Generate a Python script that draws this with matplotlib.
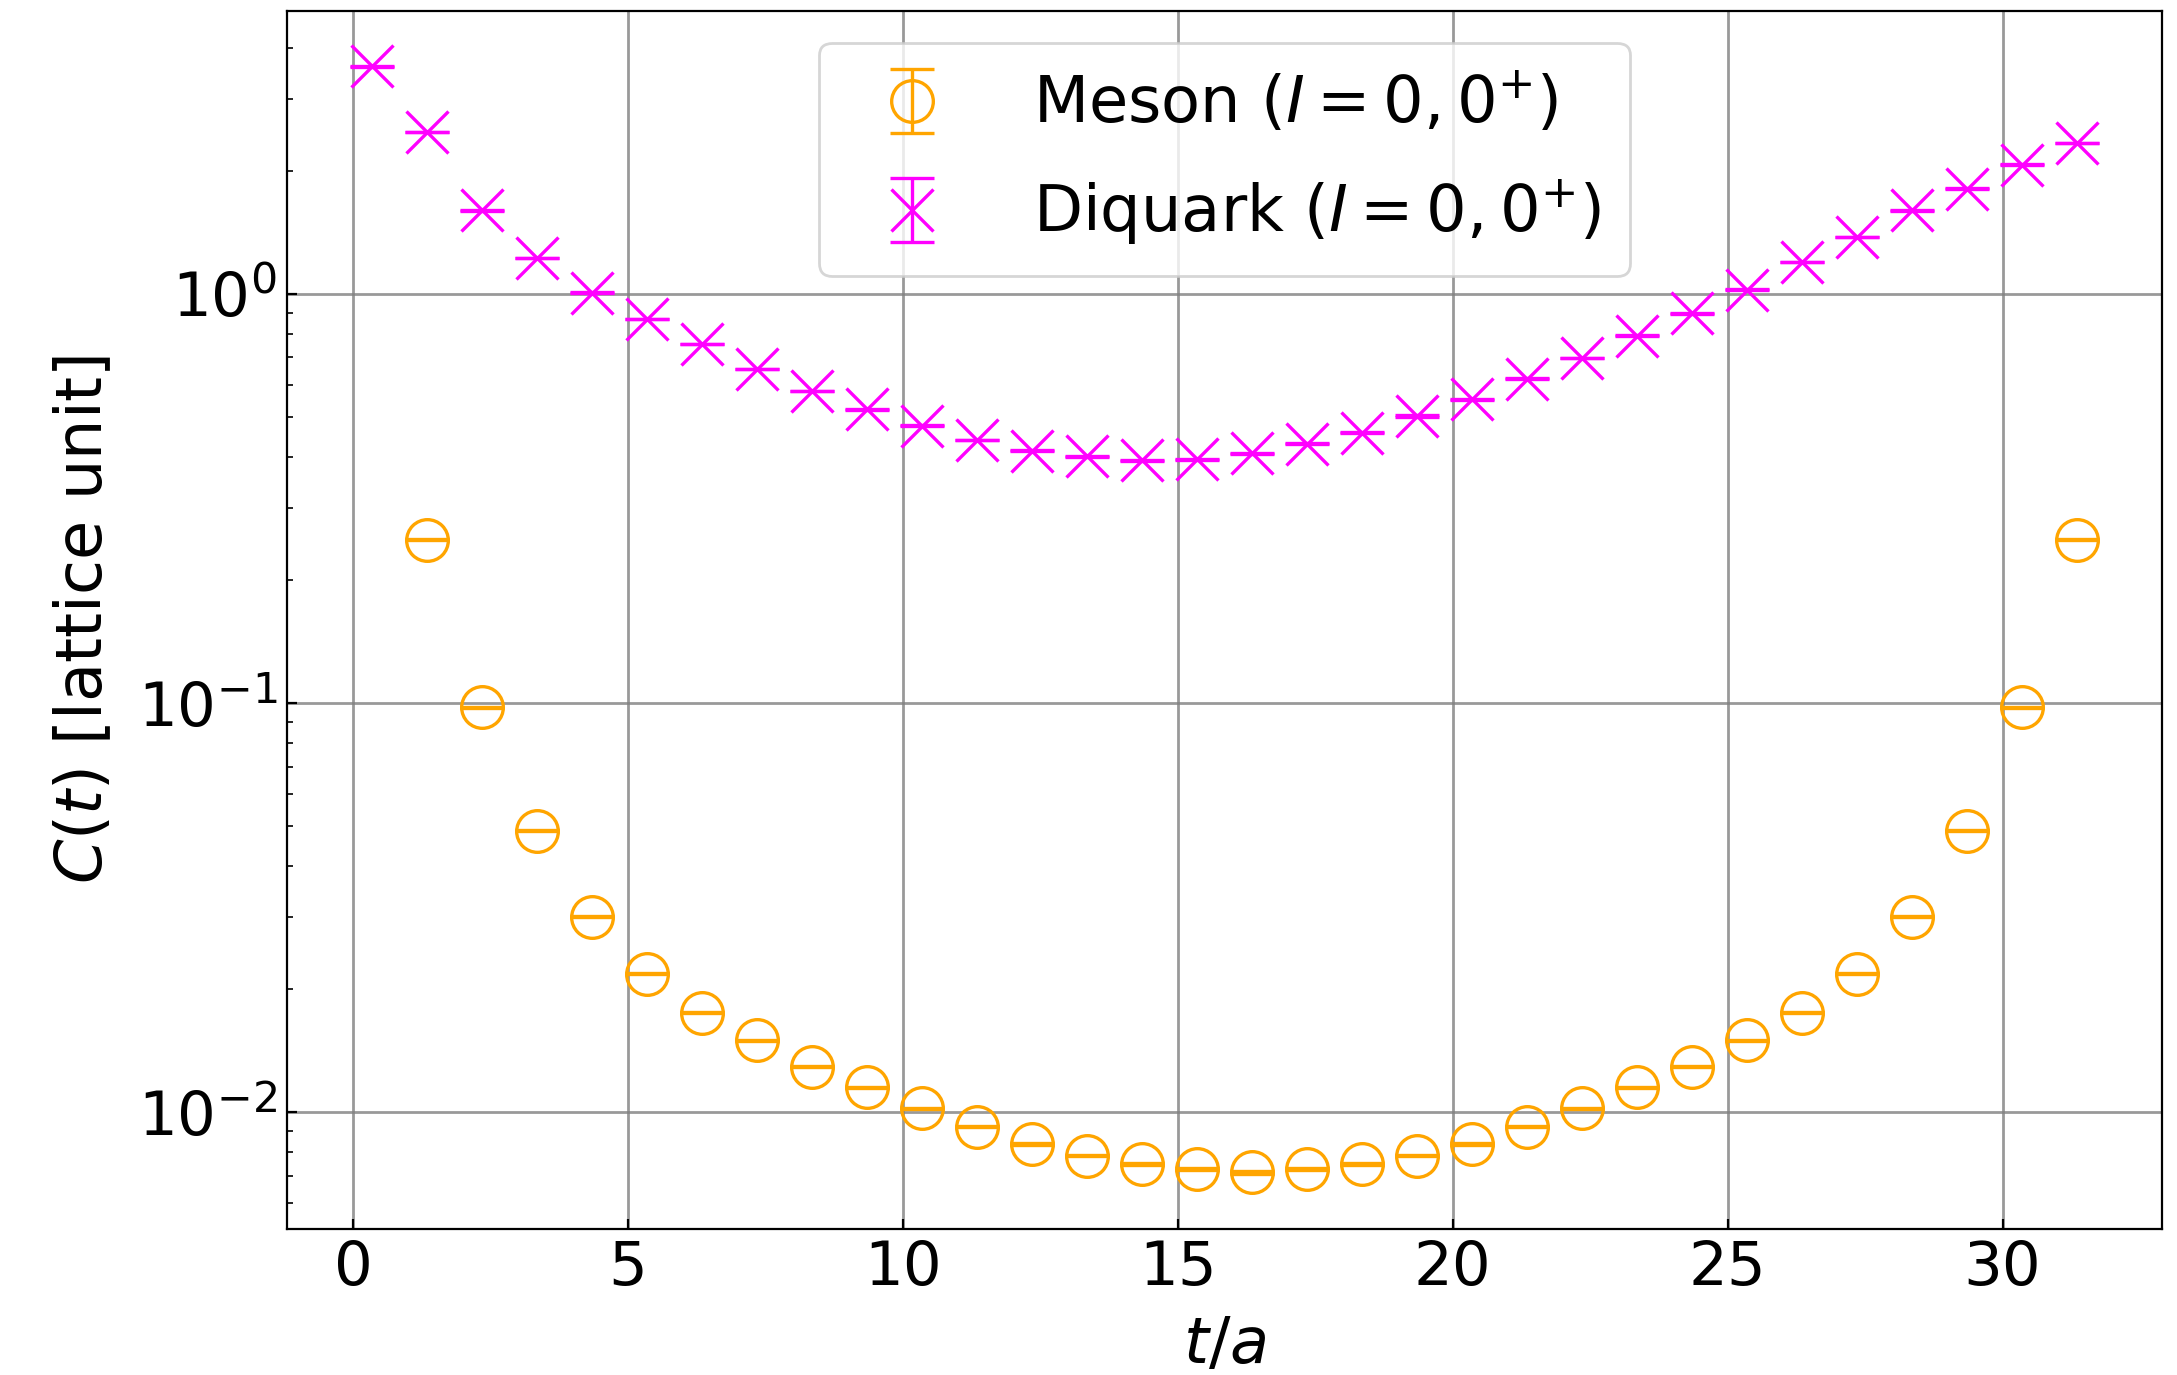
import numpy as np
import matplotlib
matplotlib.use("Agg")
import matplotlib.pyplot as plt

T_SHIFT = 0.35

# meson correlator, t = 1..31 (symmetric around t = 16)
meson_t = np.arange(1, 32)
meson_c = [0.251, 0.0977, 0.0488, 0.0301, 0.0218, 0.01755, 0.0150, 0.01294,
           0.01151, 0.01024, 0.00924, 0.00836, 0.00785, 0.00750, 0.00726,
           0.00715,
           0.00726, 0.00750, 0.00785, 0.00836, 0.00924, 0.01024, 0.01151,
           0.01294, 0.0150, 0.01755, 0.0218, 0.0301, 0.0488, 0.0977, 0.251]
meson_err = [0.0004, 0.0002, 0.0001, 0.00008, 0.00006, 0.00005, 0.00005,
             0.00005, 0.00005, 0.00004, 0.00004, 0.00004, 0.00004, 0.00004,
             0.00004, 0.00006,
             0.00004, 0.00004, 0.00004, 0.00004, 0.00004, 0.00004, 0.00005,
             0.00005, 0.00005, 0.00005, 0.00006, 0.00008, 0.0001, 0.0002,
             0.0004]

# diquark correlator, t = 0..31
diquark_t = np.arange(0, 32)
diquark_c = [3.60, 2.49, 1.60, 1.225, 1.008, 0.869, 0.755, 0.656, 0.579,
             0.523, 0.477, 0.440, 0.414, 0.401, 0.392, 0.395, 0.408, 0.431,
             0.458, 0.503, 0.553, 0.621, 0.698, 0.791, 0.897, 1.024, 1.197,
             1.377, 1.60, 1.81, 2.07, 2.34]
diquark_err = [0.005, 0.004, 0.003, 0.002, 0.002, 0.002, 0.001, 0.001, 0.001,
               0.001, 0.001, 0.001, 0.001, 0.001, 0.002, 0.001, 0.001, 0.001,
               0.001, 0.002, 0.001, 0.001, 0.001, 0.001, 0.001, 0.002, 0.002,
               0.002, 0.002, 0.003, 0.003, 0.004]

plt.rcParams["font.size"] = 22
plt.rcParams["mathtext.fontset"] = "dejavusans"

fig = plt.figure(figsize=(10.885, 6.875), dpi=200)
ax = fig.add_axes([0.1318, 0.1062, 0.8613, 0.886])

ax.errorbar(meson_t + T_SHIFT, meson_c, yerr=meson_err, fmt="o",
            color="orange", mfc="none", ms=15, mew=1.2, capsize=8,
            elinewidth=1.2, capthick=1.2, label=r"Meson ($I=0, 0^{+}$)")
ax.errorbar(diquark_t + T_SHIFT, diquark_c, yerr=diquark_err, fmt="x",
            color="magenta", ms=15, mew=1.2, capsize=8,
            elinewidth=1.2, capthick=1.2, label=r"Diquark ($I=0, 0^{+}$)")

ax.set_yscale("log")
ax.set_xlabel(r"$t/a$", fontsize=23, labelpad=6)
ax.set_ylabel(r"$C(t)$ [lattice unit]", fontsize=23, labelpad=8)
ax.grid(True, which="major", color="gray", alpha=0.8, linewidth=1.0)
ax.tick_params(which="both", direction="in")
ax.set_xticks([0, 5, 10, 15, 20, 25, 30])

ax.legend(loc="upper center", fontsize=23, labelspacing=0.65,
          handlelength=2.0, handletextpad=0.9, borderpad=0.45)

fig.savefig("out.png", dpi=200)
